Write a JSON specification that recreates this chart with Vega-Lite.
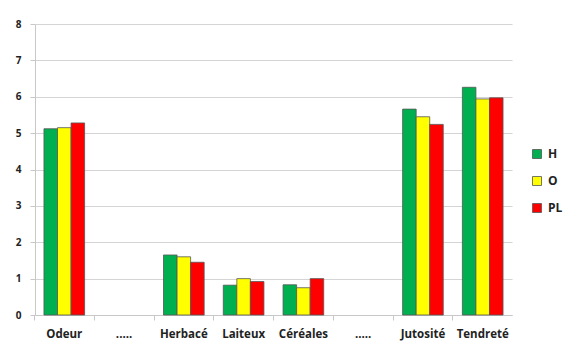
{
  "$schema": "https://vega.github.io/schema/vega-lite/v6.json",
  "width": 477,
  "height": 291,
  "autosize": {"type": "none"},
  "padding": {"left": 35, "top": 24, "right": 57, "bottom": 30},
  "background": "white",
  "data": {
    "values": [
      {"cat": "Odeur", "serie": "H", "val": 5.12},
      {"cat": "Odeur", "serie": "O", "val": 5.15},
      {"cat": "Odeur", "serie": "PL", "val": 5.28},
      {"cat": "Herbacé", "serie": "H", "val": 1.65},
      {"cat": "Herbacé", "serie": "O", "val": 1.6},
      {"cat": "Herbacé", "serie": "PL", "val": 1.45},
      {"cat": "Laiteux", "serie": "H", "val": 0.82},
      {"cat": "Laiteux", "serie": "O", "val": 1.0},
      {"cat": "Laiteux", "serie": "PL", "val": 0.92},
      {"cat": "Céréales", "serie": "H", "val": 0.83},
      {"cat": "Céréales", "serie": "O", "val": 0.75},
      {"cat": "Céréales", "serie": "PL", "val": 1.0},
      {"cat": "Jutosité", "serie": "H", "val": 5.66},
      {"cat": "Jutosité", "serie": "O", "val": 5.45},
      {"cat": "Jutosité", "serie": "PL", "val": 5.24},
      {"cat": "Tendreté", "serie": "H", "val": 6.26},
      {"cat": "Tendreté", "serie": "O", "val": 5.94},
      {"cat": "Tendreté", "serie": "PL", "val": 5.97}
    ]
  },
  "mark": {"type": "bar", "stroke": "#555555", "strokeWidth": 0.8},
  "encoding": {
    "x": {
      "field": "cat",
      "type": "nominal",
      "scale": {
        "domain": ["Odeur", "dots1", "Herbacé", "Laiteux", "Céréales", "dots2", "Jutosité", "Tendreté"],
        "paddingInner": 0.32,
        "paddingOuter": 0.15
      },
      "axis": {
        "title": null,
        "labelAngle": 0,
        "labelExpr": "indexof(datum.value, 'dots') === 0 ? '.....' : datum.value",
        "labelFont": "Open Sans",
        "labelFontWeight": "bold",
        "labelFontSize": 11.5,
        "labelColor": "#222222",
        "labelPadding": 8,
        "bandPosition": -0.233,
        "tickColor": "#c8c8c8",
        "tickSize": 5,
        "domainColor": "#c8c8c8",
        "grid": false
      }
    },
    "xOffset": {"field": "serie", "type": "nominal", "scale": {"domain": ["H", "O", "PL"]}},
    "y": {
      "field": "val",
      "type": "quantitative",
      "scale": {"domain": [0, 8], "nice": false},
      "axis": {
        "title": null,
        "values": [0, 1, 2, 3, 4, 5, 6, 7, 8],
        "labelFont": "Open Sans",
        "labelFontWeight": "bold",
        "labelFontSize": 10,
        "labelColor": "#222222",
        "labelPadding": 9,
        "tickColor": "#c8c8c8",
        "tickSize": 5,
        "domainColor": "#c8c8c8",
        "gridColor": "#d4d4d4",
        "gridWidth": 1.2
      }
    },
    "color": {
      "field": "serie",
      "type": "nominal",
      "scale": {"domain": ["H", "O", "PL"], "range": ["#00B050", "#FFFF00", "#FF0000"]},
      "legend": {
        "title": null,
        "orient": "none",
        "legendX": 496,
        "legendY": 124,
        "symbolType": "square",
        "symbolSize": 81,
        "symbolStrokeColor": "#555555",
        "symbolStrokeWidth": 0.8,
        "labelFont": "Open Sans",
        "labelFontWeight": "bold",
        "labelFontSize": 12,
        "labelColor": "#222222",
        "rowPadding": 13,
        "labelOffset": 5
      }
    }
  },
  "config": {"view": {"stroke": null}}
}
